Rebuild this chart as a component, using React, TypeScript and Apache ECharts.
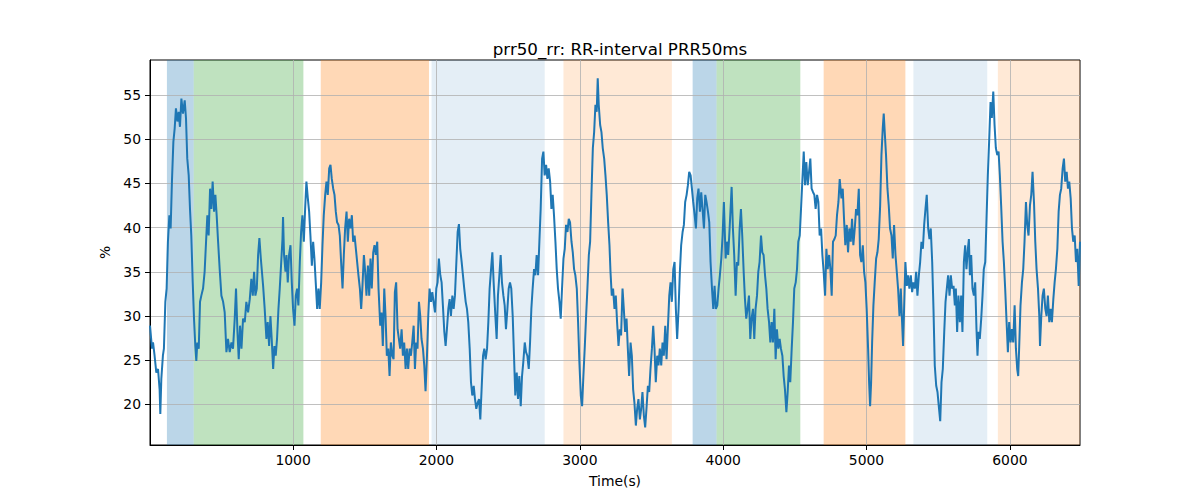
import React, { useEffect, useRef } from "react";
import * as echarts from "echarts";

// [time (s), PRR50 (%)], section by section
const seg1: [number, number][] = [
  [2, 28.9], [16, 26.3], [23, 27.0], [34, 25.5], [46, 23.6], [58, 24.0], [69, 21.7], [74, 18.9], [81, 22.9], [92, 25.5],
  [99, 26.3], [109, 31.6], [118, 33.1], [127, 38.4], [137, 41.4], [146, 39.9], [155, 45.2], [165, 49.7], [174, 51.2], [183, 53.5],
  [193, 52.0], [202, 53.1], [211, 51.4], [221, 54.6], [232, 52.9], [244, 54.4], [253, 52.4], [262, 47.8], [272, 45.9], [281, 42.1],
  [290, 39.1], [300, 33.8], [309, 29.7], [318, 26.6], [325, 24.9], [332, 27.0], [342, 26.3], [351, 31.6], [360, 32.3], [372, 33.1],
  [383, 35.0], [393, 38.4], [402, 41.4], [411, 39.1], [421, 44.4], [430, 42.1], [439, 45.2], [449, 41.8], [458, 43.7], [467, 41.4],
  [477, 38.4], [488, 35.3], [500, 32.3], [512, 31.6], [523, 30.4], [535, 25.9], [546, 27.4], [558, 25.9], [570, 27.0], [581, 26.3],
  [593, 29.7], [602, 33.1], [612, 28.2], [621, 25.1], [630, 28.9], [640, 26.3], [651, 29.7], [663, 29.3], [674, 31.6], [686, 30.4],
  [698, 31.9], [709, 34.2], [719, 32.3], [728, 35.0], [737, 32.3], [747, 33.1], [756, 36.9], [765, 38.8], [775, 36.5],
];
const seg2: [number, number][] = [
  [791, 33.4], [802, 30.8], [814, 27.4], [823, 29.3], [833, 26.6], [842, 30.0], [851, 27.4], [861, 24.0], [870, 26.6], [879, 25.5],
  [888, 27.4], [898, 30.8], [907, 33.1], [916, 35.7], [926, 38.7], [930, 41.2], [937, 36.9], [947, 35.0], [954, 36.9], [963, 33.8],
  [972, 36.9], [982, 38.0], [991, 33.8], [1000, 30.8], [1010, 28.9], [1019, 32.3], [1028, 33.1], [1037, 31.2], [1047, 36.1], [1056, 39.5],
  [1065, 41.4], [1075, 38.4], [1084, 42.1], [1093, 45.2], [1103, 43.3], [1112, 41.8], [1121, 39.1], [1131, 35.7], [1140, 38.4], [1149, 36.5],
  [1158, 33.8], [1168, 30.8], [1177, 33.1], [1186, 30.8], [1196, 33.8], [1205, 38.0], [1214, 41.4], [1224, 43.7], [1233, 45.2], [1242, 43.7],
  [1252, 46.7], [1261, 47.1], [1270, 45.5], [1280, 44.4], [1289, 43.7], [1298, 41.8], [1307, 40.6], [1317, 40.3], [1326, 39.1], [1335, 36.1],
  [1345, 33.1], [1354, 36.9], [1363, 39.9], [1373, 41.8], [1382, 38.4], [1391, 41.0], [1401, 39.9], [1410, 41.4], [1419, 38.4], [1429, 39.1],
  [1438, 37.6], [1447, 36.1], [1456, 34.6], [1466, 33.1], [1475, 30.8], [1484, 33.4], [1494, 36.9], [1503, 35.0], [1512, 32.3], [1522, 35.7],
  [1531, 32.3], [1540, 36.5], [1549, 33.1], [1559, 37.2], [1568, 38.0], [1577, 36.9], [1587, 38.4], [1596, 33.1],
];
const seg3: [number, number][] = [
  [1608, 28.9], [1617, 30.4], [1626, 26.6], [1636, 33.1], [1645, 30.0], [1654, 25.5], [1664, 26.3], [1673, 23.2], [1682, 27.0], [1692, 25.5],
  [1701, 25.1], [1710, 32.7], [1719, 33.8], [1729, 28.5], [1738, 27.4], [1747, 26.3], [1757, 28.5], [1766, 25.5], [1775, 27.0], [1785, 24.0],
  [1794, 26.3], [1803, 24.0], [1813, 26.3], [1822, 25.5], [1831, 27.0], [1841, 28.9], [1850, 24.0], [1859, 27.0], [1868, 26.3], [1878, 31.6],
  [1887, 30.0], [1896, 27.4], [1906, 26.3], [1915, 24.4], [1924, 21.5], [1934, 25.5], [1943, 30.0], [1952, 33.1], [1962, 31.6], [1971, 32.7],
  [1980, 31.6], [1990, 30.4], [1999, 33.1], [2008, 33.8], [2017, 36.5], [2027, 34.6], [2036, 33.8], [2045, 31.2], [2055, 28.2], [2064, 26.6],
  [2073, 28.5], [2083, 30.8], [2092, 31.9], [2101, 30.0], [2111, 32.3], [2120, 30.8], [2129, 32.3], [2139, 36.1], [2148, 39.5], [2157, 40.4],
  [2166, 37.6], [2176, 36.1], [2185, 34.6], [2194, 33.1], [2204, 31.6], [2213, 30.8], [2222, 29.3], [2232, 26.3], [2241, 22.5], [2250, 21.0],
  [2260, 22.1], [2269, 20.6], [2278, 19.5], [2288, 20.2], [2297, 20.6], [2306, 18.3], [2315, 21.7], [2325, 25.5], [2334, 26.3], [2343, 25.1],
  [2353, 26.3], [2362, 29.3], [2371, 33.1], [2381, 35.3], [2390, 37.2], [2399, 33.8],
];
const seg4: [number, number][] = [
  [2411, 30.0], [2420, 27.4], [2429, 32.3], [2439, 34.6], [2448, 36.9], [2457, 33.8], [2467, 32.3], [2476, 31.2], [2485, 28.5], [2495, 30.8],
  [2504, 33.1], [2513, 33.8], [2522, 33.1], [2532, 30.0], [2541, 25.5], [2550, 21.0], [2560, 23.6], [2569, 20.6], [2578, 23.2], [2588, 19.8],
  [2597, 23.2], [2606, 24.8], [2616, 27.0], [2625, 25.9], [2634, 25.5], [2644, 24.0], [2653, 27.0], [2662, 30.8], [2671, 33.1], [2681, 35.3],
  [2690, 34.6], [2699, 36.9], [2709, 34.6], [2718, 38.4], [2727, 42.1], [2737, 47.8], [2746, 48.6], [2755, 45.9], [2765, 47.1], [2774, 45.5],
  [2783, 46.7], [2793, 45.2], [2802, 42.1], [2811, 43.7], [2820, 41.4], [2830, 38.4], [2839, 35.3], [2848, 33.1], [2858, 31.6], [2867, 29.7],
  [2876, 33.1], [2886, 36.5], [2895, 37.6], [2904, 40.3], [2914, 39.5], [2923, 41.0], [2932, 40.6], [2942, 38.4], [2951, 37.2], [2960, 35.3],
  [2969, 34.6], [2979, 33.1], [2988, 29.3], [2997, 24.8], [3007, 21.0], [3016, 19.8], [3025, 23.2], [3035, 26.6], [3044, 30.0], [3053, 33.1],
  [3063, 36.9], [3072, 38.4], [3081, 43.7], [3091, 49.0], [3100, 50.8], [3109, 53.9], [3118, 53.1], [3125, 56.9], [3132, 53.9], [3142, 51.6],
  [3151, 50.8], [3160, 49.0], [3170, 47.8], [3179, 45.9], [3188, 43.7], [3198, 40.5], [3207, 38.0],
];
const seg5: [number, number][] = [
  [3214, 35.0], [3223, 32.3], [3232, 33.1], [3242, 30.8], [3251, 32.3], [3260, 29.3], [3270, 26.6], [3279, 28.5], [3288, 27.8], [3298, 33.1],
  [3307, 30.8], [3316, 28.2], [3326, 29.7], [3335, 26.3], [3344, 23.2], [3354, 27.0], [3363, 25.5], [3372, 21.7], [3381, 20.2], [3391, 17.6],
  [3400, 19.5], [3409, 20.6], [3419, 18.3], [3428, 19.5], [3437, 21.4], [3447, 18.7], [3456, 17.4], [3465, 19.5], [3475, 22.1], [3484, 21.4],
  [3493, 24.0], [3503, 26.3], [3512, 28.9], [3521, 26.3], [3530, 22.5], [3540, 25.5], [3549, 24.4], [3558, 26.3], [3568, 24.4], [3577, 27.0],
  [3586, 25.5], [3596, 28.9], [3605, 25.1], [3614, 28.5], [3624, 32.3], [3633, 33.8], [3642, 31.6], [3652, 35.3], [3661, 36.1], [3670, 30.8],
  [3679, 27.4], [3689, 30.8], [3698, 35.0], [3707, 38.0], [3717, 39.5], [3726, 40.3], [3735, 42.9], [3745, 43.7], [3754, 44.8], [3763, 46.3],
  [3773, 45.9], [3782, 44.4], [3791, 42.9], [3801, 41.4], [3810, 39.9], [3819, 43.3], [3828, 44.4], [3838, 41.8], [3847, 44.0], [3856, 42.1],
  [3866, 39.9], [3875, 43.7], [3884, 42.9], [3894, 41.8], [3903, 40.6], [3912, 36.1], [3922, 33.1], [3931, 30.8], [3940, 33.4], [3949, 30.8],
  [3959, 31.2], [3968, 33.1], [3977, 34.6], [3987, 36.5], [3996, 39.1], [4005, 42.9],
];
const seg6: [number, number][] = [
  [4017, 36.5], [4026, 38.4], [4035, 36.9], [4045, 39.9], [4054, 42.9], [4059, 44.6], [4068, 39.9], [4077, 36.9], [4087, 32.3], [4096, 36.1],
  [4105, 35.7], [4115, 39.9], [4124, 42.1], [4133, 39.1], [4143, 35.0], [4152, 31.9], [4161, 29.7], [4170, 30.8], [4180, 32.3], [4189, 27.4],
  [4198, 29.7], [4208, 30.8], [4217, 27.4], [4226, 30.8], [4236, 32.3], [4245, 35.0], [4254, 36.1], [4264, 39.1], [4273, 37.2], [4282, 36.9],
  [4292, 34.6], [4301, 33.1], [4310, 30.8], [4320, 29.3], [4329, 27.0], [4338, 29.3], [4347, 27.0], [4357, 30.8], [4366, 25.1], [4375, 28.5],
  [4385, 26.3], [4394, 27.4], [4403, 26.3], [4413, 25.5], [4422, 23.2], [4431, 21.7], [4441, 19.1], [4450, 21.4], [4459, 24.4], [4468, 22.5],
  [4478, 26.3], [4487, 29.3], [4496, 33.1], [4506, 33.8], [4515, 35.3], [4524, 38.4], [4534, 39.1], [4543, 42.1], [4552, 45.2], [4562, 48.6],
  [4571, 44.8], [4580, 47.4], [4590, 44.8], [4599, 46.3], [4608, 47.8], [4617, 44.4], [4627, 44.0], [4636, 43.7], [4645, 42.1], [4655, 43.7],
  [4664, 42.9], [4673, 39.1], [4683, 39.9], [4692, 36.9], [4701, 35.0], [4711, 32.3], [4720, 37.6], [4729, 35.3], [4739, 36.9], [4748, 35.3],
  [4757, 32.3], [4766, 38.4], [4776, 38.7], [4785, 39.1], [4794, 41.4], [4804, 42.9], [4813, 45.5],
];
const seg7: [number, number][] = [
  [4825, 43.3], [4834, 44.4], [4843, 41.0], [4852, 38.0], [4862, 40.3], [4871, 37.2], [4880, 39.9], [4890, 38.4], [4899, 41.0], [4908, 38.0],
  [4918, 39.9], [4927, 42.1], [4936, 41.4], [4946, 44.4], [4955, 36.9], [4964, 36.1], [4974, 38.0], [4983, 35.0], [4992, 33.8], [5001, 30.8],
  [5011, 26.3], [5018, 22.5], [5025, 19.8], [5032, 22.5], [5039, 27.0], [5048, 31.2], [5057, 33.8], [5067, 36.5], [5076, 37.2], [5085, 38.7],
  [5095, 42.5], [5104, 48.2], [5113, 51.2], [5120, 52.9], [5127, 50.8], [5136, 48.2], [5146, 44.4], [5155, 42.5], [5164, 39.9], [5174, 39.1],
  [5183, 36.5], [5192, 40.3], [5202, 36.9], [5211, 35.0], [5220, 33.1], [5230, 30.0], [5239, 33.1], [5248, 29.3], [5255, 26.6], [5262, 30.8],
  [5271, 36.1], [5281, 33.4], [5290, 34.6], [5299, 33.1], [5309, 34.6], [5318, 32.7], [5327, 33.8], [5337, 33.1], [5346, 35.0], [5355, 32.3],
  [5365, 34.6], [5374, 36.1], [5383, 38.4], [5393, 37.6], [5402, 40.3], [5411, 42.1], [5420, 43.7], [5430, 39.9], [5439, 38.7], [5448, 39.9],
  [5458, 36.1], [5467, 30.8], [5476, 24.4], [5486, 22.1], [5495, 21.4], [5504, 19.8], [5514, 18.1], [5523, 22.5], [5532, 24.0], [5542, 28.2],
  [5551, 31.6], [5560, 33.1], [5569, 34.6], [5579, 32.3], [5588, 34.6], [5597, 33.1], [5607, 33.4], [5616, 31.2],
];
const seg8: [number, number][] = [
  [5623, 33.1], [5632, 28.2], [5641, 32.3], [5651, 29.3], [5660, 32.3], [5669, 28.2], [5679, 36.1], [5688, 38.0], [5697, 35.3], [5707, 37.6],
  [5714, 38.7], [5721, 34.6], [5730, 36.9], [5739, 33.1], [5749, 32.3], [5758, 33.8], [5767, 28.5], [5774, 25.5], [5781, 28.2], [5790, 27.4],
  [5800, 29.7], [5809, 32.3], [5818, 35.3], [5828, 36.1], [5837, 41.0], [5846, 45.9], [5856, 50.1], [5865, 54.2], [5874, 52.4], [5884, 55.4],
  [5893, 51.6], [5902, 49.0], [5912, 48.2], [5921, 48.6], [5930, 45.9], [5939, 42.5], [5949, 38.4], [5958, 36.1], [5967, 33.1], [5977, 29.3],
  [5986, 25.9], [5995, 29.3], [6005, 27.0], [6014, 28.5], [6023, 27.0], [6033, 31.2], [6042, 26.3], [6051, 24.0], [6058, 23.2], [6065, 26.6],
  [6074, 31.2], [6084, 33.8], [6093, 35.3], [6102, 38.4], [6112, 42.9], [6121, 40.3], [6130, 39.1], [6140, 42.5], [6149, 43.7], [6158, 46.3],
  [6168, 42.9], [6177, 38.4], [6186, 35.3], [6196, 33.1], [6205, 30.0], [6210, 26.6], [6219, 30.0], [6228, 32.3], [6237, 33.1], [6247, 30.8],
  [6256, 30.0], [6265, 32.3], [6275, 29.3], [6284, 30.8], [6293, 29.3], [6303, 31.9], [6312, 33.8], [6321, 35.3], [6331, 37.6], [6340, 41.8],
  [6349, 43.7], [6358, 44.4], [6368, 46.7], [6377, 47.8], [6386, 45.2], [6396, 46.3], [6405, 44.4], [6414, 45.2], [6424, 43.3], [6433, 39.9],
  [6442, 38.4], [6452, 39.1], [6461, 36.1], [6470, 37.6], [6480, 33.4], [6489, 38.4],
];

// shaded phases: [start, end] in seconds and their kind
const bandRanges: [number, number][] = [
  [120, 307], [307, 1072], [1193, 1948], [1966, 2755], [2886, 3642],
  [3787, 3954], [3954, 4538], [4701, 5271], [5327, 5842], [5916, 6489],
];
const bandKinds: string[] = [
  "blue", "green", "orange", "lightblue", "lightorange",
  "blue", "green", "orange", "lightblue", "lightorange",
];

const xTicks = [1000, 2000, 3000, 4000, 5000, 6000];
const yTicks = [20, 25, 30, 35, 40, 45, 50, 55];
const xRange: [number, number] = [2, 6489];
const yRange: [number, number] = [15.4, 58.96];

const bandColor: Record<string, string> = {
  blue: "rgba(31,119,180,0.3)",
  green: "rgba(44,160,44,0.3)",
  orange: "rgba(255,127,14,0.3)",
  lightblue: "rgba(31,119,180,0.12)",
  lightorange: "rgba(255,127,14,0.17)",
};

export default function App() {
  const ref = useRef<HTMLDivElement>(null);
  useEffect(() => {
    document.body.style.margin = "0";
    const chart = echarts.init(ref.current!, null, { renderer: "svg" });
    const prr50 = [...seg1, ...seg2, ...seg3, ...seg4, ...seg5, ...seg6, ...seg7, ...seg8];
    const font = "DejaVu Sans";
    chart.setOption({
      animation: false,
      backgroundColor: "#ffffff",
      textStyle: { fontFamily: font },
      title: {
        text: "prr50_rr: RR-interval PRR50ms",
        left: 615,
        top: 35,
        textAlign: "center",
        textStyle: { fontFamily: font, fontSize: 16.7, fontWeight: "normal", color: "#000" },
      },
      grid: {
        left: 150, right: 120, top: 60, bottom: 55,
        show: true, borderColor: "#000", borderWidth: 1, backgroundColor: "transparent", z: 0,
      },
      xAxis: {
        type: "value",
        min: xRange[0],
        max: xRange[1],
        z: 2,
        name: "Time(s)",
        nameLocation: "middle",
        nameGap: 29,
        nameTextStyle: { fontFamily: font, fontSize: 13.9, color: "#000" },
        axisLine: { show: true, onZero: false, lineStyle: { color: "#000", width: 1 } },
        axisTick: { show: true, length: 5, lineStyle: { color: "#000", width: 1 }, customValues: xTicks },
        axisLabel: {
          customValues: xTicks, fontFamily: font, fontSize: 13.9, color: "#000", margin: 8,
          formatter: (v: number) => String(v),
        },
        splitLine: { show: true, lineStyle: { color: "#b0b0b0", width: 0.8 } },
      },
      yAxis: {
        type: "value",
        min: yRange[0],
        max: yRange[1],
        z: 2,
        name: "%",
        nameLocation: "middle",
        nameGap: 29,
        nameTextStyle: { fontFamily: font, fontSize: 13.9, color: "#000" },
        axisLine: { show: true, onZero: false, lineStyle: { color: "#000", width: 1 } },
        axisTick: { show: true, length: 5, lineStyle: { color: "#000", width: 1 }, customValues: yTicks },
        axisLabel: {
          customValues: yTicks, fontFamily: font, fontSize: 13.9, color: "#000", margin: 9,
          formatter: (v: number) => String(v),
        },
        splitLine: { show: true, lineStyle: { color: "#b0b0b0", width: 0.8 } },
      },
      series: [
        {
          type: "line",
          data: [],
          z: 1,
          silent: true,
          markArea: {
            silent: true,
            data: bandRanges.map((r, i) => [
              { xAxis: r[0], itemStyle: { color: bandColor[bandKinds[i]] } },
              { xAxis: r[1] },
            ]),
          },
        },
        {
          type: "line",
          data: prr50,
          z: 3,
          symbol: "none",
          showSymbol: false,
          lineStyle: { color: "#1f77b4", width: 2 },
          itemStyle: { color: "#1f77b4" },
        },
      ],
    });
    return () => chart.dispose();
  }, []);
  return <div ref={ref} style={{ position: "absolute", left: 0, top: 0, width: 1200, height: 500 }} />;
}
